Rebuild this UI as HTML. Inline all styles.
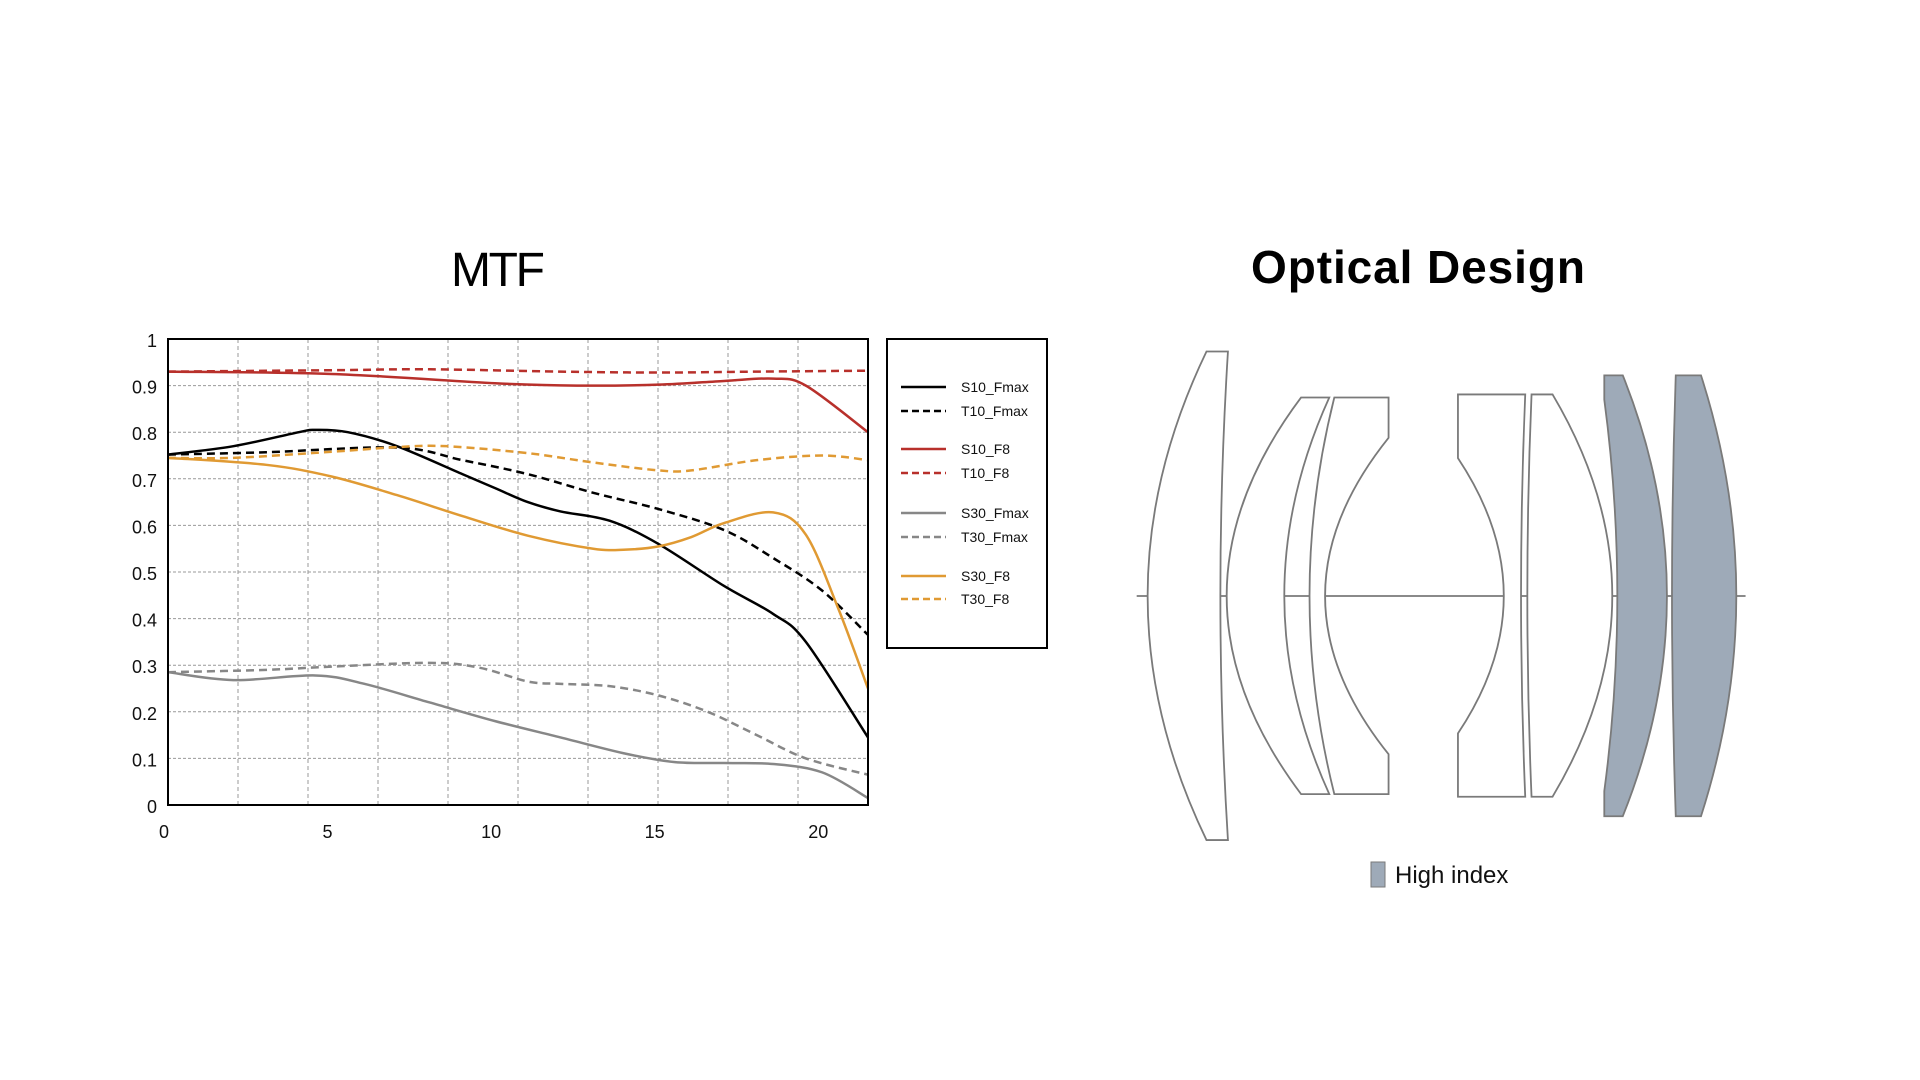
<!DOCTYPE html>
<html><head><meta charset="utf-8"><style>
html,body{margin:0;padding:0;background:#fff;}
svg{display:block;font-family:"Liberation Sans",sans-serif;}
</style></head><body>
<svg id="root" width="1920" height="1080" viewBox="0 0 1920 1080">
<text x="498" y="286" font-size="48" text-anchor="middle" textLength="94">MTF</text>
<text x="1418" y="283" font-size="46" font-weight="bold" text-anchor="middle" textLength="334">Optical Design</text>
<g id="grid"></g>
<g id="series"></g>
<rect x="168" y="339" width="700" height="466" fill="none" stroke="#000" stroke-width="2"/>
<g id="ticks"></g>
<g id="legend">
<rect x="887" y="339" width="160" height="309" fill="none" stroke="#000" stroke-width="2"/>
</g>
<g transform="translate(1130.8,229.7) scale(0.4205,0.4335)" fill="#fff" stroke="#7a7a7a" stroke-width="1.8">
<line x1="14" y1="845" x2="1462" y2="845" vector-effect="non-scaling-stroke"/>
<path vector-effect="non-scaling-stroke" d="M180,281 L231,281 Q195,845 231,1408 L180,1408 Q-100,845 180,281 Z"/>
<path vector-effect="non-scaling-stroke" d="M405,387 L472,387 Q258,845 472,1302 L405,1302 Q51,845 405,387 Z"/>
<path vector-effect="non-scaling-stroke" d="M484,387 L613,387 L613,480 Q311,845 613,1210 L613,1302 L484,1302 Q366,845 484,387 Z"/>
<path vector-effect="non-scaling-stroke" d="M778,380 L938,380 Q918,845 938,1308 L778,1308 L778,1162 Q996,845 778,527 Z"/>
<path vector-effect="non-scaling-stroke" d="M953,380 L1003,380 Q1287,845 1003,1308 L953,1308 Q933,845 953,380 Z"/>
<path vector-effect="non-scaling-stroke" fill="#9eaab8" d="M1126,336 L1170,336 Q1380,845 1170,1353 L1126,1353 L1126,1295 Q1188,845 1126,392 Z"/>
<path vector-effect="non-scaling-stroke" fill="#9eaab8" d="M1296,336 L1356,336 Q1524,845 1356,1353 L1296,1353 Q1278,845 1296,336 Z"/>
</g>
<rect x="1371" y="862" width="14" height="25" fill="#9eaab8" stroke="#7a7a7a" stroke-width="1"/>
<text x="1395" y="893" font-size="24" fill="#111" transform="translate(0,-10)">High index</text>
</svg>
<script>
const xValues = [0,2,4,4.5,5.5,7,9,10,11,12,13.5,15,17,18.5,19.5,21.4];
const s10Fmax = [0.752,0.77,0.80,0.805,0.80,0.77,0.71,0.68,0.65,0.63,0.61,0.56,0.47,0.41,0.35,0.145];
const t10FmaxX = [0,3,7,9,11,13,15,17,18.5,20,21.4];
const t10Fmax = [0.752,0.757,0.767,0.74,0.71,0.67,0.635,0.59,0.53,0.46,0.365];
const s10F8X = [0,5,10,12.5,15,17,18.5,19.5,21.4];
const s10F8 = [0.93,0.925,0.905,0.90,0.902,0.91,0.915,0.90,0.80];
const t10F8X = [0,5,8,12,15,18,21.4];
const t10F8 = [0.93,0.933,0.935,0.93,0.928,0.93,0.932];
const s30F8X = [0,3,5,7,9,11,13,14,15,16,17,18.5,19.5,20.5,21.4];
const s30F8 = [0.745,0.73,0.705,0.665,0.62,0.578,0.55,0.548,0.555,0.575,0.605,0.628,0.58,0.42,0.25];
const t30F8X = [0,2,5,7,8.5,11,13,15,16,18,20,21.4];
const t30F8 = [0.745,0.745,0.758,0.768,0.77,0.755,0.735,0.718,0.718,0.74,0.75,0.74];
const s30FmaxX = [0,2,4.5,6,8,10,12,14,15.5,17,18.5,20,21.4];
const s30Fmax = [0.285,0.268,0.278,0.26,0.22,0.18,0.145,0.11,0.092,0.09,0.088,0.07,0.015];
const t30FmaxX = [0,3,5,8,9.5,11,12,13.5,15,16.5,18,19.5,21.4];
const t30Fmax = [0.285,0.29,0.297,0.305,0.295,0.265,0.26,0.255,0.235,0.2,0.15,0.1,0.065];
const xTickLabels = ["0","5","10","15","20"];
const xTickValues = [0,5,10,15,20];
const yTickLabels = ["0","0.1","0.2","0.3","0.4","0.5","0.6","0.7","0.8","0.9","1"];
const yTickValues = [0,0.1,0.2,0.3,0.4,0.5,0.6,0.7,0.8,0.9,1];
const legendNames = ["S10_Fmax","T10_Fmax","S10_F8","T10_F8","S30_Fmax","T30_Fmax","S30_F8","T30_F8"];

const X0=168,X1=868,Y0=805,Y1=339,XMAX=21.4;
function sx(v){return X0+(X1-X0)*v/XMAX;}
function sy(v){return Y0-(Y0-Y1)*v;}
const NS="http://www.w3.org/2000/svg";
function mk(tag,parent,attrs){const e=document.createElementNS(NS,tag);for(const k in attrs)e.setAttribute(k,attrs[k]);parent.appendChild(e);return e;}
const grid=document.getElementById('grid'),ticks=document.getElementById('ticks'),ser=document.getElementById('series'),leg=document.getElementById('legend');
for(let i=1;i<10;i++){
  const gx=X0+(X1-X0)*i/10;
  const l=mk('line',grid,{x1:gx,x2:gx,y1:Y1,y2:Y0,stroke:'#999','stroke-width':1,'stroke-dasharray':'4 3'});
  
  
}
yTickValues.forEach((v,i)=>{
  if(i>0&&i<10){const l=mk('line',grid,{x1:X0,x2:X1,y1:sy(v),y2:sy(v),stroke:'#999','stroke-width':1,'stroke-dasharray':'3 2'});
  
  }
  const t=mk('text',ticks,{x:157,y:sy(v)+8,'font-size':18,'text-anchor':'end',fill:'#111'});
  t.textContent=yTickLabels[i];
  
  
});
xTickValues.forEach((v,i)=>{
  const t=mk('text',ticks,{x:sx(v)-4,y:838,'font-size':18,'text-anchor':'middle',fill:'#111'});
  t.textContent=xTickLabels[i];
  
  
});
function pathFor(xs,ys){
  const p=xs.map((x,i)=>[sx(x),sy(ys[i])]);
  let d='M'+p[0][0]+','+p[0][1];
  for(let i=0;i<p.length-1;i++){
    const a=p[Math.max(i-1,0)],b=p[i],c=p[i+1],e=p[Math.min(i+2,p.length-1)];
    const c1=[b[0]+(c[0]-a[0])/6,b[1]+(c[1]-a[1])/6],c2=[c[0]-(e[0]-b[0])/6,c[1]-(e[1]-b[1])/6];
    d+=' C'+c1+' '+c2+' '+c;
  }
  return d;
}
const defs=[
 [xValues,s10Fmax,'#000',''],[t10FmaxX,t10Fmax,'#000','8 5'],
 [s10F8X,s10F8,'#b8302b',''],[t10F8X,t10F8,'#b8302b','8 5'],
 [s30FmaxX,s30Fmax,'#878787',''],[t30FmaxX,t30Fmax,'#878787','8 5'],
 [s30F8X,s30F8,'#e09a33',''],[t30F8X,t30F8,'#e09a33','8 5']];
const legY=[387,411,449,473,513,537,576,599];
defs.forEach((d,i)=>{
  const p=mk('path',ser,{d:pathFor(d[0],d[1]),fill:'none',stroke:d[2],'stroke-width':2.5});
  if(d[3])p.setAttribute('stroke-dasharray',d[3]);
  
  
  const l=mk('line',leg,{x1:901,x2:946,y1:legY[i],y2:legY[i],stroke:d[2],'stroke-width':2.5});
  if(d[3])l.setAttribute('stroke-dasharray','7 4');
  
  
  const t=mk('text',leg,{x:961,y:legY[i]+5,'font-size':14,fill:'#111'});
  t.textContent=legendNames[i];
  
  
});
</script>
</body></html>
